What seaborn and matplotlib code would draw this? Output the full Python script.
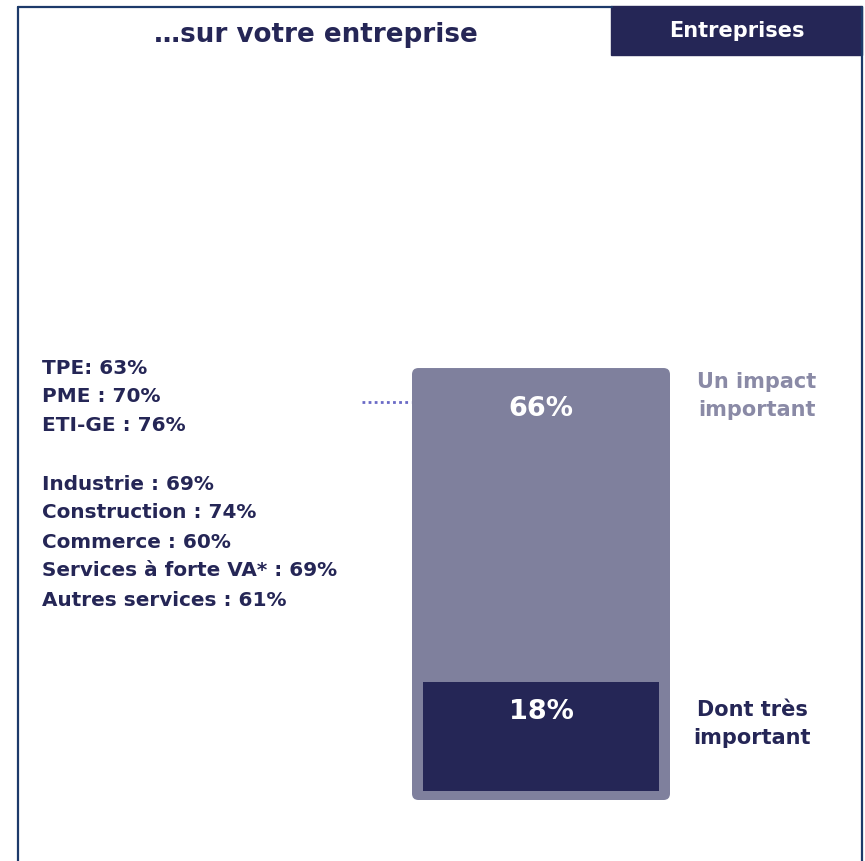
import matplotlib
matplotlib.use("Agg")
import matplotlib.pyplot as plt
from matplotlib.patches import FancyBboxPatch, Rectangle
from matplotlib.lines import Line2D
import seaborn as sns
import pandas as pd

# data
group = ["Entreprises"]
impact_total = [66]        # "Un impact important"
impact_very = [18]         # "Dont très important"
size_labels = ["TPE: 63%", "PME : 70%", "ETI-GE : 76%"]
sector_labels = ["Industrie : 69%", "Construction : 74%", "Commerce : 60%",
                 "Services à forte VA* : 69%", "Autres services : 61%"]

NAVY = "#252656"
GREY_BAR = "#7f809d"
GREY_TXT = "#8a8aa6"
FRAME = "#1d3a6a"

sns.set_theme(style="white")
plt.rcParams["font.family"] = ["DejaVu Sans"]

W, H = 865, 861
fig = plt.figure(figsize=(W / 100, H / 100), dpi=100)

def fx(px):
    return px / W

def fy(py):
    return 1 - py / H

# frame around the panel (no bottom edge)
fig.add_artist(Line2D([fx(18), fx(18)], [fy(7), 0], color=FRAME, lw=1.6))
fig.add_artist(Line2D([fx(18), fx(612)], [fy(7), fy(7)], color=FRAME, lw=1.6))
fig.add_artist(Line2D([fx(862), fx(862)], [fy(7), 0], color=FRAME, lw=1.6))

# header tag
fig.add_artist(Rectangle((fx(611), fy(55)), fx(862) - fx(611), fy(6) - fy(55),
                         color=NAVY, transform=fig.transFigure))
fig.text(fx(737), fy(31), "Entreprises", color="white", fontsize=15,
         fontweight="bold", ha="center", va="center")
fig.text(fx(316), fy(35), "\u2026sur votre entreprise", color=NAVY, fontsize=18.8,
         fontweight="bold", ha="center", va="center")

# bar axes
ax = fig.add_axes([fx(283), fy(800), fx(516), 654.5 / H])
df = pd.DataFrame({"group": group, "total": impact_total, "very": impact_very})
sns.barplot(data=df, x="group", y="total", color=GREY_BAR, width=1.0,
            saturation=1, ax=ax)
ax.set_xlim(-1, 1)
ax.set_ylim(0, 100)

# rounded corners on the outer bar
bar = ax.patches[0]
x0, y0, bw, bh = bar.get_x(), bar.get_y(), bar.get_width(), bar.get_height()
bar.remove()
ax.add_patch(FancyBboxPatch((x0, y0), bw, bh,
                            boxstyle="round,pad=0,rounding_size=0.025",
                            mutation_aspect=39.4, fc=GREY_BAR, ec="none"))

# inner bar, inset inside the outer one
inset = 1.4
ax.bar(0, df["very"][0] - inset, bottom=inset, width=0.915, color=NAVY,
       edgecolor="none", linewidth=0)

ax.text(0, df["total"][0] - 6.2, f"{df['total'][0]}%", color="white",
        fontsize=19.5, fontweight="bold", ha="center", va="center")
ax.text(0, df["very"][0] - 4.5, f"{df['very'][0]}%", color="white",
        fontsize=19.5, fontweight="bold", ha="center", va="center")
ax.axis("off")

# dotted leader line
fig.add_artist(Line2D([fx(362), fx(411)], [fy(402), fy(402)], color="#6a6ac6",
                      lw=2, linestyle=(0, (1, 1.2))))

# right labels
fig.text(fx(757), fy(396), "Un impact\nimportant", color=GREY_TXT, fontsize=15,
         fontweight="bold", ha="center", va="center", linespacing=1.45)
fig.text(fx(752), fy(724), "Dont très\nimportant", color=NAVY, fontsize=15,
         fontweight="bold", ha="center", va="center", linespacing=1.45)

# left breakdown text
step = 29
y = 368
for lab in size_labels:
    fig.text(fx(42), fy(y), lab, color=NAVY, fontsize=14.4, fontweight="bold",
             ha="left", va="center")
    y += step
y += step
for lab in sector_labels:
    fig.text(fx(42), fy(y), lab, color=NAVY, fontsize=14.4, fontweight="bold",
             ha="left", va="center")
    y += step

fig.savefig("out.png", dpi=100, facecolor="white")
